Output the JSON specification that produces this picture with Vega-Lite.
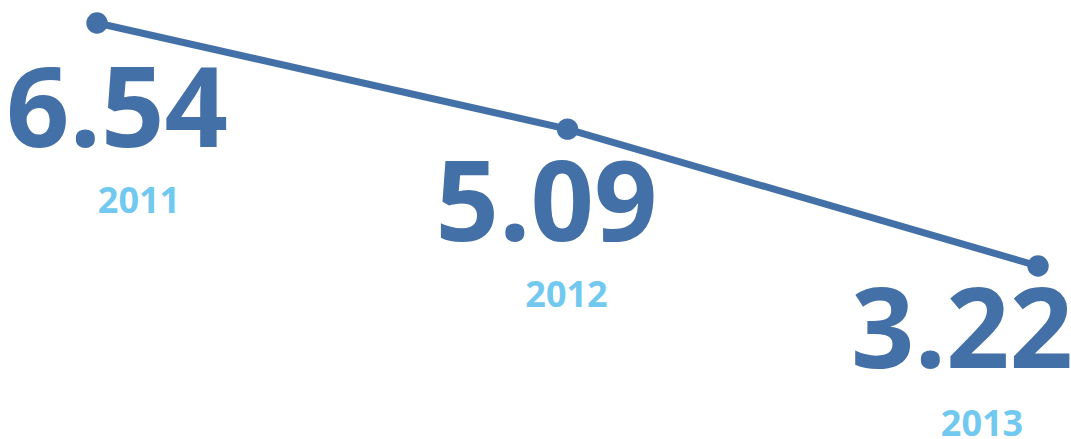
{
  "$schema": "https://vega.github.io/schema/vega-lite/v6.json",
  "autosize": {"type": "none"},
  "width": 1071,
  "height": 439,
  "padding": 0,
  "background": "white",
  "config": {"view": {"stroke": null}},
  "data": {"values": [
    {"year": 2011, "value": 6.54, "label": "6.54", "yearLabel": "2011"},
    {"year": 2012, "value": 5.09, "label": "5.09", "yearLabel": "2012"},
    {"year": 2013, "value": 3.22, "label": "3.22", "yearLabel": "2013"}
  ]},
  "encoding": {
    "x": {"field": "year", "type": "quantitative", "scale": {"domain": [2010.7938, 2013.0701], "nice": false, "zero": false}, "axis": null},
    "y": {"field": "value", "type": "quantitative", "scale": {"domain": [0.8562, 6.8543], "nice": false, "zero": false}, "axis": null}
  },
  "layer": [
    {"mark": {"type": "line", "color": "#4470A8", "strokeWidth": 7}},
    {"mark": {"type": "circle", "color": "#4470A8", "size": 460, "opacity": 1}},
    {"transform": [{"filter": "datum.year == 2011"}],
     "mark": {"type": "text", "font": "Open Sans", "fontWeight": "bold", "fontSize": 111, "color": "#4470A8", "align": "center", "baseline": "alphabetic", "dx": 20, "dy": 124},
     "encoding": {"text": {"field": "label"}}},
    {"transform": [{"filter": "datum.year == 2012"}],
     "mark": {"type": "text", "font": "Open Sans", "fontWeight": "bold", "fontSize": 111, "color": "#4470A8", "align": "center", "baseline": "alphabetic", "dx": -21, "dy": 112},
     "encoding": {"text": {"field": "label"}}},
    {"transform": [{"filter": "datum.year == 2013"}],
     "mark": {"type": "text", "font": "Open Sans", "fontWeight": "bold", "fontSize": 111, "color": "#4470A8", "align": "center", "baseline": "alphabetic", "dx": -76, "dy": 102},
     "encoding": {"text": {"field": "label"}}},
    {"transform": [{"filter": "datum.year == 2011"}],
     "mark": {"type": "text", "font": "Open Sans", "fontWeight": "bold", "fontSize": 36, "color": "#71C9EF", "align": "center", "baseline": "alphabetic", "dx": 42, "dy": 190},
     "encoding": {"text": {"field": "yearLabel"}}},
    {"transform": [{"filter": "datum.year == 2012"}],
     "mark": {"type": "text", "font": "Open Sans", "fontWeight": "bold", "fontSize": 36, "color": "#71C9EF", "align": "center", "baseline": "alphabetic", "dx": -1, "dy": 178},
     "encoding": {"text": {"field": "yearLabel"}}},
    {"transform": [{"filter": "datum.year == 2013"}],
     "mark": {"type": "text", "font": "Open Sans", "fontWeight": "bold", "fontSize": 36, "color": "#71C9EF", "align": "center", "baseline": "alphabetic", "dx": -56, "dy": 170},
     "encoding": {"text": {"field": "yearLabel"}}}
  ]
}
